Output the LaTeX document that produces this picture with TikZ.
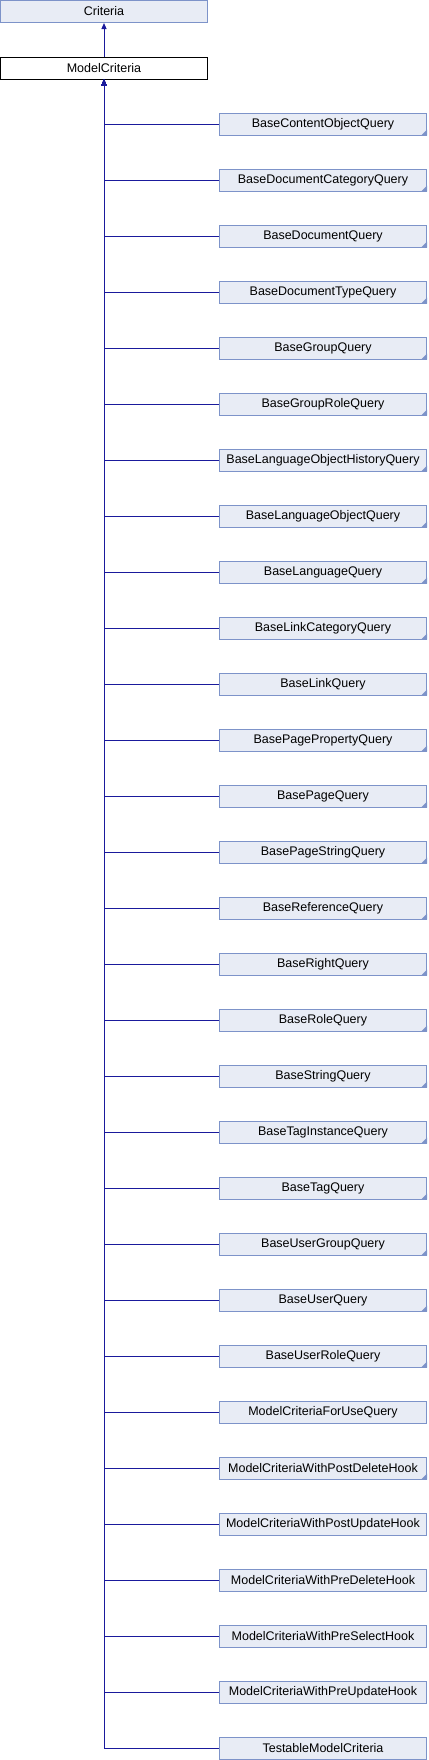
\documentclass[tikz,border=0pt]{standalone}
\usepackage{fontspec}
\setmainfont{Liberation Sans}
\usetikzlibrary{arrows.meta}
\definecolor{riempi}{HTML}{E8ECF5}
\definecolor{bordo}{HTML}{7D93C9}
\definecolor{linea}{HTML}{1A1A9C}
\tikzset{
>={Triangle[length=6bp,width=5bp]},
x=1bp, y=-1bp,
base node/.style={draw=bordo,fill=riempi,line width=1bp,minimum width=207bp,minimum height=22bp,inner sep=0pt},
main node/.style={draw=black,fill=white,line width=1bp,minimum width=207bp,minimum height=22bp,inner sep=0pt},
freccia/.style={->,draw=linea,line width=1bp},
ramo/.style={to path={-| (\tikztotarget)}}}
% angolo piegato in basso a destra
\newcommand{\piega}[1]{\fill[bordo] (#1.south east) -- ++(-6bp,0) -- ++(6bp,6bp) -- cycle;}

\begin{document}
\begin{tikzpicture}[font=\fontsize{12.5bp}{14bp}\selectfont]
\useasboundingbox (0,0) rectangle (428,1760);

\node[base node] (crit) at (104,11.5) {Criteria};
\node[main node] (mc) at (104,68) {ModelCriteria};

\node[base node] (q1)  at (323,124)  {BaseContentObjectQuery};
\node[base node] (q2)  at (323,180)  {BaseDocumentCategoryQuery};
\node[base node] (q3)  at (323,236)  {BaseDocumentQuery};
\node[base node] (q4)  at (323,292)  {BaseDocumentTypeQuery};
\node[base node] (q5)  at (323,348)  {BaseGroupQuery};
\node[base node] (q6)  at (323,404)  {BaseGroupRoleQuery};
\node[base node] (q7)  at (323,460)  {BaseLanguageObjectHistoryQuery};
\node[base node] (q8)  at (323,516)  {BaseLanguageObjectQuery};
\node[base node] (q9)  at (323,572)  {BaseLanguageQuery};
\node[base node] (q10) at (323,628)  {BaseLinkCategoryQuery};
\node[base node] (q11) at (323,684)  {BaseLinkQuery};
\node[base node] (q12) at (323,740)  {BasePagePropertyQuery};
\node[base node] (q13) at (323,796)  {BasePageQuery};
\node[base node] (q14) at (323,852)  {BasePageStringQuery};
\node[base node] (q15) at (323,908)  {BaseReferenceQuery};
\node[base node] (q16) at (323,964)  {BaseRightQuery};
\node[base node] (q17) at (323,1020) {BaseRoleQuery};
\node[base node] (q18) at (323,1076) {BaseStringQuery};
\node[base node] (q19) at (323,1132) {BaseTagInstanceQuery};
\node[base node] (q20) at (323,1188) {BaseTagQuery};
\node[base node] (q21) at (323,1244) {BaseUserGroupQuery};
\node[base node] (q22) at (323,1300) {BaseUserQuery};
\node[base node] (q23) at (323,1356) {BaseUserRoleQuery};
\node[base node] (q24) at (323,1412) {ModelCriteriaForUseQuery};
\node[base node] (q25) at (323,1468) {ModelCriteriaWithPostDeleteHook};
\node[base node] (q26) at (323,1524) {ModelCriteriaWithPostUpdateHook};
\node[base node] (q27) at (323,1580) {ModelCriteriaWithPreDeleteHook};
\node[base node] (q28) at (323,1636) {ModelCriteriaWithPreSelectHook};
\node[base node] (q29) at (323,1692) {ModelCriteriaWithPreUpdateHook};
\node[base node] (q30) at (323,1748) {TestableModelCriteria};

\piega{q1}  \piega{q2}  \piega{q3}  \piega{q4}  \piega{q5}  \piega{q6}
\piega{q7}  \piega{q8}  \piega{q9}  \piega{q10} \piega{q11} \piega{q12}
\piega{q13} \piega{q14} \piega{q15} \piega{q16} \piega{q17} \piega{q18}
\piega{q19} \piega{q20} \piega{q21} \piega{q22} \piega{q23} \piega{q25}

\path (mc) edge[freccia] (crit);

\path (q1.west)  edge[freccia,ramo] (mc.south);
\path (q2.west)  edge[freccia,ramo] (mc.south);
\path (q3.west)  edge[freccia,ramo] (mc.south);
\path (q4.west)  edge[freccia,ramo] (mc.south);
\path (q5.west)  edge[freccia,ramo] (mc.south);
\path (q6.west)  edge[freccia,ramo] (mc.south);
\path (q7.west)  edge[freccia,ramo] (mc.south);
\path (q8.west)  edge[freccia,ramo] (mc.south);
\path (q9.west)  edge[freccia,ramo] (mc.south);
\path (q10.west) edge[freccia,ramo] (mc.south);
\path (q11.west) edge[freccia,ramo] (mc.south);
\path (q12.west) edge[freccia,ramo] (mc.south);
\path (q13.west) edge[freccia,ramo] (mc.south);
\path (q14.west) edge[freccia,ramo] (mc.south);
\path (q15.west) edge[freccia,ramo] (mc.south);
\path (q16.west) edge[freccia,ramo] (mc.south);
\path (q17.west) edge[freccia,ramo] (mc.south);
\path (q18.west) edge[freccia,ramo] (mc.south);
\path (q19.west) edge[freccia,ramo] (mc.south);
\path (q20.west) edge[freccia,ramo] (mc.south);
\path (q21.west) edge[freccia,ramo] (mc.south);
\path (q22.west) edge[freccia,ramo] (mc.south);
\path (q23.west) edge[freccia,ramo] (mc.south);
\path (q24.west) edge[freccia,ramo] (mc.south);
\path (q25.west) edge[freccia,ramo] (mc.south);
\path (q26.west) edge[freccia,ramo] (mc.south);
\path (q27.west) edge[freccia,ramo] (mc.south);
\path (q28.west) edge[freccia,ramo] (mc.south);
\path (q29.west) edge[freccia,ramo] (mc.south);
\path (q30.west) edge[freccia,ramo] (mc.south);

\end{tikzpicture}
\end{document}
